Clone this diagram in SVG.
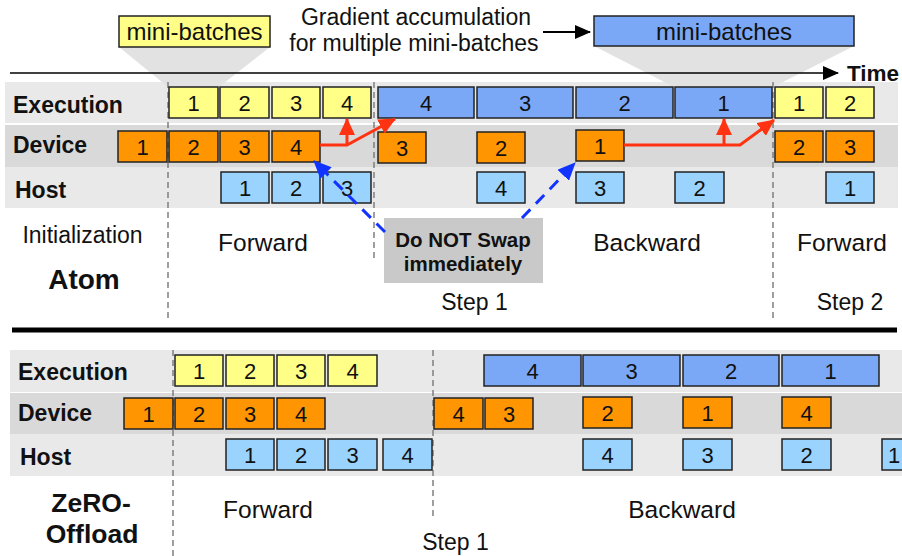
<svg xmlns="http://www.w3.org/2000/svg" width="902" height="556" viewBox="0 0 902 556">
  <style>
    text { font-family: "Liberation Sans", Arial, sans-serif; fill: #111; }
    .lbl { font-size: 23px; font-weight: bold; }
    .num { font-size: 22px; text-anchor: middle; }
    .phase { font-size: 24.5px; text-anchor: middle; }
    .step { font-size: 23px; text-anchor: middle; }
    .sys { font-weight: bold; text-anchor: middle; }
    .bx { stroke: #222; stroke-width: 1.5; }
    .y { fill: #ffff88; }
    .o { fill: #ff9500; }
    .b { fill: #7ba8f6; }
    .h { fill: #9ad3fd; }
    .band1 { fill: #e9e9e9; }
    .band2 { fill: #d9d9d9; }
    .vdash { stroke: #777; stroke-width: 1.4; stroke-dasharray: 6 4; fill: none; }
    .red { stroke: #ff3311; stroke-width: 3; fill: none; }
    .bluedash { stroke: #1133ff; stroke-width: 3; stroke-dasharray: 12 8; fill: none; }
  </style>
  <defs>
    <marker id="ah-black" markerUnits="userSpaceOnUse" markerWidth="16" markerHeight="14" refX="15" refY="7" orient="auto">
      <path d="M0,0 L16,7 L0,14 Z" fill="#000"/>
    </marker>
    <marker id="ah-red" markerUnits="userSpaceOnUse" markerWidth="17" markerHeight="16" refX="16" refY="8" orient="auto">
      <path d="M0,0 L17,8 L0,16 Z" fill="#ff3311"/>
    </marker>
    <marker id="ah-blue" markerUnits="userSpaceOnUse" markerWidth="18" markerHeight="16" refX="17" refY="8" orient="auto">
      <path d="M0,0 L18,8 L0,16 Z" fill="#1133ff"/>
    </marker>
  </defs>

  <!-- ===== Atom (top) ===== -->
  <!-- row bands -->
  <rect class="band1" x="5" y="82" width="893" height="41"/>
  <rect class="band2" x="5" y="125" width="893" height="42"/>
  <rect class="band1" x="5" y="167" width="893" height="41"/>

  <!-- zoom callouts -->
  <polygon points="119,47 270,47 219,87 168,87" fill="#e2e2e2"/>
  <polygon points="594,46 854,46 773,87 674,87" fill="#e2e2e2"/>

  <!-- phase separators -->
  <line class="vdash" x1="168" y1="82" x2="168" y2="320"/>
  <line class="vdash" x1="374" y1="82" x2="374" y2="258"/>
  <line class="vdash" x1="773" y1="82" x2="773" y2="318"/>

  <!-- time axis -->
  <line x1="10" y1="73" x2="838" y2="73" stroke="#000" stroke-width="1.6" marker-end="url(#ah-black)"/>
  <text x="847" y="81" style="font-size:22.5px;font-weight:bold">Time</text>

  <g id="callout-left">
    <rect class="bx y" x="119" y="16" width="151" height="31"/>
    <text x="194.5" y="40" style="font-size:24px;text-anchor:middle">mini-batches</text>
  </g>
  <g id="callout-right">
    <rect class="bx b" x="594" y="16" width="260" height="30"/>
    <text x="724" y="40" style="font-size:24px;text-anchor:middle">mini-batches</text>
  </g>
  <g id="grad-note">
    <text x="416" y="25" style="font-size:23px;text-anchor:middle">Gradient accumulation</text>
    <text x="414" y="51" style="font-size:23px;text-anchor:middle">for multiple mini-batches</text>
    <line x1="543" y1="32" x2="590" y2="32" stroke="#000" stroke-width="2" marker-end="url(#ah-black)"/>
  </g>

  <!-- row labels -->
  <text class="lbl" x="13" y="112.5">Execution</text>
  <text class="lbl" x="13" y="153">Device</text>
  <text class="lbl" x="15" y="197.5">Host</text>

  <!-- execution row -->
  <g id="a-exec-f1"><rect class="bx y" x="169" y="87" width="49" height="31"/><text class="num" x="193.5" y="110.5">1</text></g>
  <g id="a-exec-f2"><rect class="bx y" x="220" y="87" width="49" height="31"/><text class="num" x="244.5" y="110.5">2</text></g>
  <g id="a-exec-f3"><rect class="bx y" x="272" y="87" width="48" height="31"/><text class="num" x="296" y="110.5">3</text></g>
  <g id="a-exec-f4"><rect class="bx y" x="323" y="87" width="48" height="31"/><text class="num" x="347" y="110.5">4</text></g>
  <g id="a-exec-b4"><rect class="bx b" x="378" y="87" width="96" height="31"/><text class="num" x="426" y="110.5">4</text></g>
  <g id="a-exec-b3"><rect class="bx b" x="477" y="87" width="96" height="31"/><text class="num" x="525" y="110.5">3</text></g>
  <g id="a-exec-b2"><rect class="bx b" x="576" y="87" width="97" height="31"/><text class="num" x="624.5" y="110.5">2</text></g>
  <g id="a-exec-b1"><rect class="bx b" x="675" y="87" width="97" height="31"/><text class="num" x="723.5" y="110.5">1</text></g>
  <g id="a-exec-n1"><rect class="bx y" x="775" y="87" width="48" height="31"/><text class="num" x="799" y="110.5">1</text></g>
  <g id="a-exec-n2"><rect class="bx y" x="826" y="87" width="48" height="31"/><text class="num" x="850" y="110.5">2</text></g>

  <!-- device row -->
  <g id="a-dev-1"><rect class="bx o" x="118" y="131" width="49" height="31"/><text class="num" x="142.5" y="154.5">1</text></g>
  <g id="a-dev-2"><rect class="bx o" x="169" y="131" width="49" height="31"/><text class="num" x="193.5" y="154.5">2</text></g>
  <g id="a-dev-3"><rect class="bx o" x="220" y="131" width="49" height="31"/><text class="num" x="244.5" y="154.5">3</text></g>
  <g id="a-dev-4"><rect class="bx o" x="272" y="131" width="48" height="31"/><text class="num" x="296" y="154.5">4</text></g>
  <g id="a-dev-b3"><rect class="bx o" x="378" y="132" width="48" height="31"/><text class="num" x="402" y="155.5">3</text></g>
  <g id="a-dev-b2"><rect class="bx o" x="477" y="132" width="48" height="31"/><text class="num" x="501" y="155.5">2</text></g>
  <g id="a-dev-b1"><rect class="bx o" x="576" y="130" width="48" height="31"/><text class="num" x="600" y="153.5">1</text></g>
  <g id="a-dev-n2"><rect class="bx o" x="775" y="131" width="48" height="31"/><text class="num" x="799" y="154.5">2</text></g>
  <g id="a-dev-n3"><rect class="bx o" x="826" y="131" width="48" height="31"/><text class="num" x="850" y="154.5">3</text></g>

  <!-- host row -->
  <g id="a-host-1"><rect class="bx h" x="221" y="172" width="48" height="31"/><text class="num" x="245" y="195.5">1</text></g>
  <g id="a-host-2"><rect class="bx h" x="272" y="172" width="48" height="31"/><text class="num" x="296" y="195.5">2</text></g>
  <g id="a-host-3"><rect class="bx h" x="323" y="172" width="48" height="31"/><text class="num" x="347" y="195.5">3</text></g>
  <g id="a-host-b4"><rect class="bx h" x="477" y="172" width="48" height="31"/><text class="num" x="501" y="195.5">4</text></g>
  <g id="a-host-b3"><rect class="bx h" x="576" y="172" width="48" height="31"/><text class="num" x="600" y="195.5">3</text></g>
  <g id="a-host-b2"><rect class="bx h" x="675" y="172" width="49" height="31"/><text class="num" x="699.5" y="195.5">2</text></g>
  <g id="a-host-n1"><rect class="bx h" x="826" y="172" width="48" height="31"/><text class="num" x="850" y="195.5">1</text></g>

  <g id="no-swap-note">
    <rect x="384" y="218" width="159" height="65" fill="#c9c9c9"/>
    <text x="463" y="247" style="font-size:20.5px;font-weight:bold;text-anchor:middle">Do NOT Swap</text>
    <text x="463" y="271" style="font-size:20.5px;font-weight:bold;text-anchor:middle">immediately</text>
  </g>

  <!-- phase labels -->
  <text x="82.5" y="243" style="font-size:23px;text-anchor:middle">Initialization</text>
  <text class="phase" x="263" y="251">Forward</text>
  <text class="phase" x="647" y="251">Backward</text>
  <text class="phase" x="842" y="251">Forward</text>
  <text class="sys" x="84" y="289" style="font-size:28px">Atom</text>
  <text class="step" x="474.5" y="310">Step 1</text>
  <text class="step" x="850" y="310">Step 2</text>

  <!-- connectors -->
  <g id="connectors">
    <path class="red" d="M320,145 H347 L395,119" marker-end="url(#ah-red)"/>
    <path class="red" d="M347,145 V119" marker-end="url(#ah-red)"/>
    <path class="red" d="M624,145 H740 L774,120" marker-end="url(#ah-red)"/>
    <path class="red" d="M724,145 V119" marker-end="url(#ah-red)"/>
    <path class="bluedash" d="M385,232 L314,161" marker-end="url(#ah-blue)"/>
    <path class="bluedash" d="M522,218 L575,163" marker-end="url(#ah-blue)"/>
  </g>

  <!-- divider -->
  <line x1="12" y1="330" x2="897" y2="330" stroke="#000" stroke-width="5"/>

  <!-- ===== ZeRO-Offload (bottom) ===== -->
  <rect class="band1" x="10" y="350" width="892" height="42"/>
  <rect class="band2" x="10" y="393" width="892" height="41"/>
  <rect class="band1" x="10" y="434" width="892" height="42"/>

  <line class="vdash" x1="173" y1="350" x2="173" y2="556"/>
  <line class="vdash" x1="433" y1="350" x2="433" y2="518"/>

  <text class="lbl" x="18" y="380">Execution</text>
  <text class="lbl" x="18" y="421">Device</text>
  <text class="lbl" x="20" y="465">Host</text>

  <g id="z-exec-f1"><rect class="bx y" x="175" y="355" width="48" height="31"/><text class="num" x="199" y="378.5">1</text></g>
  <g id="z-exec-f2"><rect class="bx y" x="226" y="355" width="48" height="31"/><text class="num" x="250" y="378.5">2</text></g>
  <g id="z-exec-f3"><rect class="bx y" x="277" y="355" width="48" height="31"/><text class="num" x="301" y="378.5">3</text></g>
  <g id="z-exec-f4"><rect class="bx y" x="328" y="355" width="49" height="31"/><text class="num" x="352.5" y="378.5">4</text></g>
  <g id="z-exec-b4"><rect class="bx b" x="484" y="355" width="97" height="31"/><text class="num" x="532.5" y="378.5">4</text></g>
  <g id="z-exec-b3"><rect class="bx b" x="583" y="355" width="97" height="31"/><text class="num" x="631.5" y="378.5">3</text></g>
  <g id="z-exec-b2"><rect class="bx b" x="683" y="355" width="96" height="31"/><text class="num" x="731" y="378.5">2</text></g>
  <g id="z-exec-b1"><rect class="bx b" x="782" y="355" width="97" height="31"/><text class="num" x="830.5" y="378.5">1</text></g>

  <g id="z-dev-1"><rect class="bx o" x="124" y="398" width="49" height="31"/><text class="num" x="148.5" y="421.5">1</text></g>
  <g id="z-dev-2"><rect class="bx o" x="175" y="398" width="48" height="31"/><text class="num" x="199" y="421.5">2</text></g>
  <g id="z-dev-3"><rect class="bx o" x="226" y="398" width="48" height="31"/><text class="num" x="250" y="421.5">3</text></g>
  <g id="z-dev-4"><rect class="bx o" x="277" y="398" width="48" height="31"/><text class="num" x="301" y="421.5">4</text></g>
  <g id="z-dev-b4"><rect class="bx o" x="434" y="398" width="49" height="31"/><text class="num" x="458.5" y="421.5">4</text></g>
  <g id="z-dev-b3"><rect class="bx o" x="485" y="398" width="48" height="31"/><text class="num" x="509" y="421.5">3</text></g>
  <g id="z-dev-b2"><rect class="bx o" x="583" y="397" width="49" height="31"/><text class="num" x="607.5" y="420.5">2</text></g>
  <g id="z-dev-b1"><rect class="bx o" x="683" y="397" width="49" height="31"/><text class="num" x="707.5" y="420.5">1</text></g>
  <g id="z-dev-n4"><rect class="bx o" x="782" y="397" width="49" height="31"/><text class="num" x="806.5" y="420.5">4</text></g>

  <g id="z-host-1"><rect class="bx h" x="226" y="439" width="48" height="31"/><text class="num" x="250" y="462.5">1</text></g>
  <g id="z-host-2"><rect class="bx h" x="277" y="439" width="48" height="31"/><text class="num" x="301" y="462.5">2</text></g>
  <g id="z-host-3"><rect class="bx h" x="328" y="439" width="49" height="31"/><text class="num" x="352.5" y="462.5">3</text></g>
  <g id="z-host-4"><rect class="bx h" x="383" y="439" width="49" height="31"/><text class="num" x="407.5" y="462.5">4</text></g>
  <g id="z-host-b4"><rect class="bx h" x="583" y="439" width="49" height="31"/><text class="num" x="607.5" y="462.5">4</text></g>
  <g id="z-host-b3"><rect class="bx h" x="683" y="439" width="49" height="31"/><text class="num" x="707.5" y="462.5">3</text></g>
  <g id="z-host-b2"><rect class="bx h" x="782" y="439" width="49" height="31"/><text class="num" x="806.5" y="462.5">2</text></g>
  <g id="z-host-b1"><rect class="bx h" x="882" y="439" width="40" height="31"/><text class="num" x="894" y="462.5">1</text></g>

  <text class="phase" x="268" y="518">Forward</text>
  <text class="phase" x="682" y="518">Backward</text>
  <text class="sys" x="91" y="512" style="font-size:26.5px">ZeRO-</text>
  <text class="sys" x="92" y="543" style="font-size:26.5px">Offload</text>
  <text class="step" x="455.5" y="550">Step 1</text>
</svg>
